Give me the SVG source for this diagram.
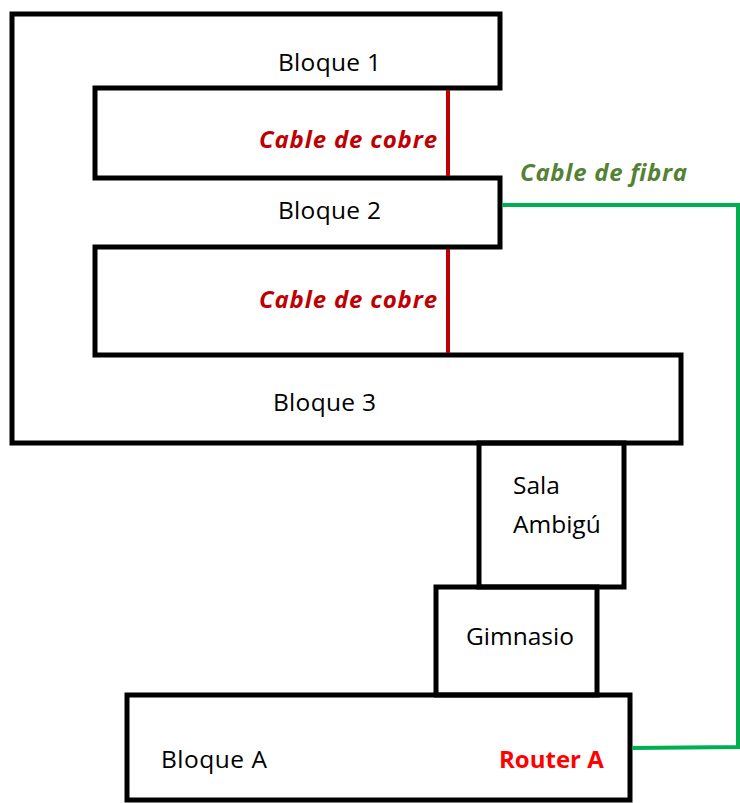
<svg xmlns="http://www.w3.org/2000/svg" width="740" height="803" viewBox="0 0 740 803">
<style>
.wall{fill:none;stroke:#000;stroke-width:5;stroke-linejoin:miter}
.lbl{font-family:"Open Sans","Noto Sans",sans-serif;font-size:24.5px;fill:#000}
.cu{font-family:"Open Sans","Noto Sans",sans-serif;font-size:24px;font-weight:bold;font-style:italic;fill:#C00000}
.fib{font-family:"Open Sans","Noto Sans",sans-serif;font-size:24px;font-weight:bold;font-style:italic;fill:#548235}
.rt{font-family:"Open Sans","Noto Sans",sans-serif;font-size:24px;font-weight:bold;fill:#FF0000}
.cuw{fill:none;stroke:#C00000;stroke-width:4}
.fw{fill:none;stroke:#00B050;stroke-width:4}
</style>
<rect width="740" height="803" fill="#fff"/>
<g id="bloques-1-2-3">
<path class="wall" d="M12,14 H500 V88 H95 V178 H500 V247 H95 V355 H681 V443 H12 Z"/>
<text class="lbl" x="278" y="71" textLength="103" lengthAdjust="spacing">Bloque 1</text>
<text class="lbl" x="278" y="219" textLength="103" lengthAdjust="spacing">Bloque 2</text>
<text class="lbl" x="273" y="411" textLength="103" lengthAdjust="spacing">Bloque 3</text>
</g>
<g id="sala-ambigu">
<rect class="wall" x="479" y="443" width="145" height="144"/>
<text class="lbl" x="513" y="494">Sala</text>
<text class="lbl" x="513" y="533">Ambigú</text>
</g>
<g id="gimnasio">
<rect class="wall" x="436" y="587" width="161" height="108"/>
<text class="lbl" x="466" y="645">Gimnasio</text>
</g>
<g id="bloque-a">
<rect class="wall" x="127" y="695" width="503" height="105"/>
<text class="lbl" x="161" y="768" textLength="106" lengthAdjust="spacing">Bloque A</text>
<text class="rt" x="499" y="768">Router A</text>
</g>
<g id="connectors">
<line class="cuw" x1="448" y1="90" x2="448" y2="176"/>
<line class="cuw" x1="448" y1="249" x2="448" y2="353"/>
<polyline class="fw" points="502,205 738,205 738,747 632,748"/>
<text class="cu" x="259" y="148" textLength="178" lengthAdjust="spacing">Cable de cobre</text>
<text class="cu" x="259" y="308" textLength="178" lengthAdjust="spacing">Cable de cobre</text>
<text class="fib" x="520" y="181" textLength="167" lengthAdjust="spacing">Cable de fibra</text>
</g>
</svg>
